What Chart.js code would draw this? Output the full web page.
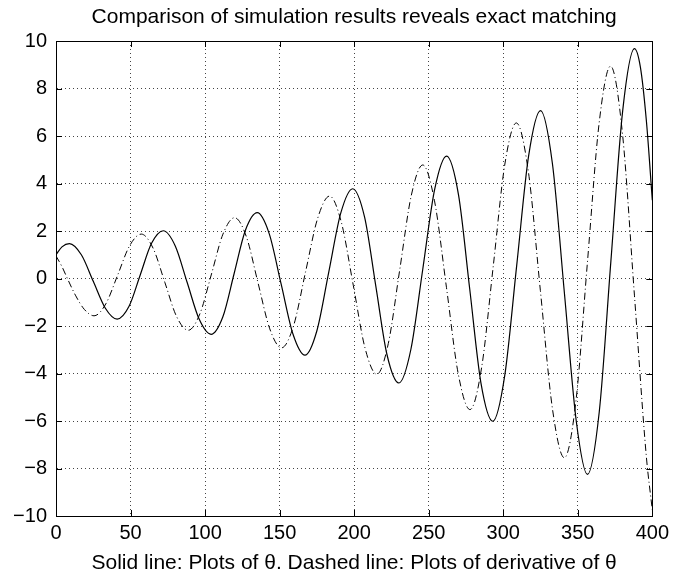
<!DOCTYPE html>
<html>
<head>
<meta charset="utf-8">
<script src="https://cdn.jsdelivr.net/npm/chart.js@4/dist/chart.umd.min.js"></script>
<style>
  html, body { margin: 0; padding: 0; background: #ffffff; }
  canvas { display: block; }
</style>
</head>
<body>
<canvas id="c" width="674" height="578"></canvas>
<script>
// ---- Data ----
const chartTitle = 'Comparison of simulation results reveals exact matching';
const xAxisLabel = 'Solid line: Plots of \u03b8. Dashed line: Plots of derivative of \u03b8';

const xTicks = [0, 50, 100, 150, 200, 250, 300, 350, 400];
const yTicks = [-10, -8, -6, -4, -2, 0, 2, 4, 6, 8, 10];

// Solid line: theta
const thetaT = [0, 4, 9, 17, 25, 33, 41, 49, 56.5, 64, 72, 80, 88, 96, 104,
  112, 119.5, 127, 135, 143, 151, 159, 167, 175, 183, 191, 199, 207, 214.5, 222, 230,
  238, 246, 254, 262, 270, 277.5, 285, 293, 301, 309, 317, 325, 333, 341, 349, 356.5,
  364.4, 372.2, 380.1, 388, 392, 396, 400];
const thetaV = [1.00, 1.33, 1.47, 1.00, -0.12, -1.24, -1.71, -1.17, 0.15, 1.47, 2.01, 1.37, -0.17, -1.71, -2.35,
  -1.60, 0.21, 2.02, 2.77, 1.89, -0.23, -2.35, -3.23, -2.20, 0.28, 2.75, 3.78, 2.58, -0.31, -3.20, -4.40,
  -3.00, 0.38, 3.75, 5.15, 3.52, -0.43, -4.38, -6.01, -4.09, 0.53, 5.15, 7.07, 4.83, -0.59, -6.01, -8.25,
  -5.62, 0.72, 7.05, 9.68, 8.90, 6.65, 3.30];

// Dash-dot line: derivative of theta
const dthetaT = [0, 4, 8, 13, 19, 25.5, 33.4, 41.4, 49.3, 57.2, 65.1, 73, 80.8, 88.7,
  96.5, 104.3, 112, 119.8, 127.7, 135.5, 143.4, 151.3, 159.4, 167.4, 175.5, 183.5,
  191.4, 199.4, 207.3, 215.2, 222.9, 230.6, 238.3, 246, 253.9, 261.9, 269.8, 277.7,
  285.5, 293.3, 301, 308.8, 316.9, 324.9, 333, 341, 348.8, 356.5, 364.3, 372,
  380, 388, 396, 400];
const dthetaV = [0.95, 0.50, -0.05, -0.70, -1.30, -1.57, -1.07, 0.15, 1.37, 1.87, 1.28, -0.16, -1.59, -2.18,
  -1.49, 0.19, 1.87, 2.56, 1.76, -0.18, -2.12, -2.92, -1.98, 0.28, 2.53, 3.47,
  2.37, -0.28, -2.93, -4.03, -2.74, 0.38, 3.49, 4.78, 3.27, -0.37, -4.01, -5.52,
  -3.75, 0.52, 4.78, 6.55, 4.48, -0.50, -5.48, -7.55, -5.14, 0.70, 6.53, 8.94,
  6.09, -0.70, -7.50, -9.75];

const toPoints = (ts, vs) => ts.map((t, i) => ({ x: t, y: vs[i] }));

// Frame + inward tick marks (MATLAB style), positioned from the chart's own scales
const framePlugin = {
  id: 'frame',
  afterDatasetsDraw(chart) {
    const { ctx, chartArea: a, scales } = chart;
    const len = 6;
    ctx.save();
    ctx.strokeStyle = '#000';
    ctx.lineWidth = 1;
    ctx.beginPath();
    ctx.rect(Math.round(a.left) + 0.5, Math.round(a.top) + 0.5,
             Math.round(a.right - a.left), Math.round(a.bottom - a.top));
    ctx.stroke();
    ctx.beginPath();
    xTicks.forEach(v => {
      const px = Math.round(scales.x.getPixelForValue(v)) + 0.5;
      ctx.moveTo(px, a.bottom); ctx.lineTo(px, a.bottom - len);
      ctx.moveTo(px, a.top); ctx.lineTo(px, a.top + len);
    });
    yTicks.forEach(v => {
      const py = Math.round(scales.y.getPixelForValue(v)) + 0.5;
      ctx.moveTo(a.left, py); ctx.lineTo(a.left + len, py);
      ctx.moveTo(a.right, py); ctx.lineTo(a.right - len, py);
    });
    ctx.stroke();
    ctx.restore();
  }
};

const fontFamily = '"Liberation Sans", Arial, Helvetica, sans-serif';

new Chart(document.getElementById('c'), {
  type: 'line',
  data: {
    datasets: [
      {
        label: '\u03b8',
        data: toPoints(thetaT, thetaV),
        borderColor: '#000',
        borderWidth: 1.2,
        pointRadius: 0,
        fill: false,
        cubicInterpolationMode: 'monotone'
      },
      {
        label: 'derivative of \u03b8',
        data: toPoints(dthetaT, dthetaV),
        borderColor: '#000',
        borderWidth: 1,
        borderDash: [7, 3, 1, 3],
        pointRadius: 0,
        fill: false,
        cubicInterpolationMode: 'monotone'
      }
    ]
  },
  options: {
    responsive: false,
    animation: false,
    layout: { padding: { left: 0, right: 17, top: 0, bottom: 0 } },
    plugins: {
      legend: { display: false },
      tooltip: { enabled: false },
      title: {
        display: true,
        fullSize: false,
        text: chartTitle,
        color: '#000',
        font: { family: fontFamily, size: 21, weight: 'normal', lineHeight: 1.2 },
        padding: { top: 4.4, bottom: 11.4 }
      }
    },
    scales: {
      x: {
        type: 'linear',
        min: 0,
        max: 400,
        afterBuildTicks: s => { s.ticks = xTicks.map(v => ({ value: v })); },
        afterFit: s => { s.height = 62; },
        ticks: {
          color: '#000',
          padding: 5,
          maxRotation: 0,
          font: { family: fontFamily, size: 20 },
          callback: v => String(v)
        },
        grid: { color: '#444', lineWidth: 1, drawTicks: false },
        border: { display: true, color: '#000', width: 1, dash: [1, 3] },
        title: {
          display: true,
          text: xAxisLabel,
          color: '#000',
          font: { family: fontFamily, size: 21, lineHeight: 1.2 },
          padding: { top: 0, bottom: 2 }
        }
      },
      y: {
        type: 'linear',
        min: -10,
        max: 10,
        afterBuildTicks: s => { s.ticks = yTicks.map(v => ({ value: v })); },
        afterFit: s => { s.width = 56; },
        ticks: {
          color: '#000',
          padding: 9,
          font: { family: fontFamily, size: 20 },
          callback: v => (v < 0 ? '\u2212' + Math.abs(v) : String(v))
        },
        grid: { color: '#444', lineWidth: 1, drawTicks: false },
        border: { display: true, color: '#000', width: 1, dash: [1, 3] }
      }
    }
  },
  plugins: [framePlugin]
});
</script>
</body>
</html>
